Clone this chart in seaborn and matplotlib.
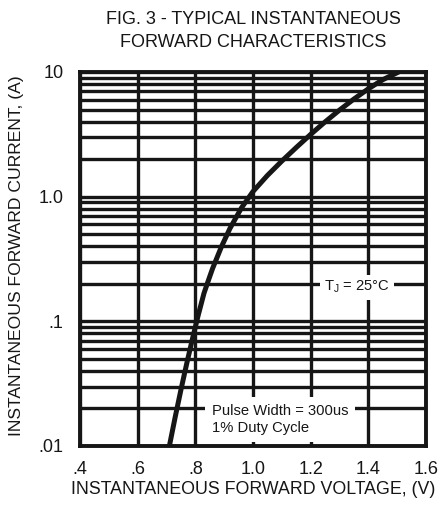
import seaborn as sns
import matplotlib.pyplot as plt
import pandas as pd
from matplotlib.ticker import LogLocator, FixedLocator, NullFormatter

# forward voltage (V) vs forward current (A)
voltage = [0.71, 0.73, 0.75, 0.77, 0.79, 0.81, 0.83, 0.845, 0.86, 0.89, 0.92, 0.96,
           1.00, 1.05, 1.10, 1.15, 1.20, 1.25, 1.30, 1.35, 1.40, 1.45, 1.505]
current = [0.01, 0.017, 0.0282, 0.0457, 0.0724, 0.112, 0.168, 0.212, 0.266, 0.394, 0.556, 0.813,
           1.10, 1.48, 1.93, 2.48, 3.16, 3.98, 4.95, 6.07, 7.33, 8.67, 10.0]

x_ticks = [0.4, 0.6, 0.8, 1.0, 1.2, 1.4, 1.6]
x_labels = [".4", ".6", ".8", "1.0", "1.2", "1.4", "1.6"]
y_ticks = [0.01, 0.1, 1.0, 10]
y_labels = [".01", ".1", "1.0", "10"]

df = pd.DataFrame({"V": voltage, "I": current})

sns.set_style("white")
plt.rcParams["font.family"] = ["Liberation Sans", "DejaVu Sans"]
ink = "#161616"

fig = plt.figure(figsize=(4.43, 5.08), dpi=100)
ax = fig.add_axes([80 / 443, 1 - 446 / 508, 346 / 443, 374 / 508])

sns.lineplot(data=df, x="V", y="I", ax=ax, color=ink, linewidth=3.6, zorder=5)

ax.set_yscale("log")
ax.set_xlim(0.4, 1.6)
ax.set_ylim(0.01, 10)

ax.xaxis.set_major_locator(FixedLocator(x_ticks))
ax.set_xticklabels(x_labels)
ax.yaxis.set_major_locator(FixedLocator(y_ticks))
ax.set_yticklabels(y_labels)
ax.yaxis.set_minor_locator(LogLocator(base=10, subs=[2, 3, 4, 5, 6, 7, 8, 9]))
ax.yaxis.set_minor_formatter(NullFormatter())

ax.grid(True, which="both", color=ink, linewidth=2.4)
ax.tick_params(axis="x", which="both", length=0, labelsize=13, pad=11, colors=ink)
ax.tick_params(axis="y", which="both", length=0, labelsize=13, pad=12, colors=ink)
for s in ax.spines.values():
    s.set_color(ink)
    s.set_linewidth(2.8)

ax.set_xlabel("INSTANTANEOUS FORWARD VOLTAGE, (V)", fontsize=12.8, color=ink, labelpad=2)
ax.set_ylabel("INSTANTANEOUS FORWARD CURRENT, (A)", fontsize=12.6, color=ink)
ax.yaxis.set_label_coords(-0.163, 0.51)

fig.text(253 / 443, 1 - 19.5 / 508, "FIG. 3 - TYPICAL INSTANTANEOUS", ha="center", va="center",
         fontsize=13, color=ink)
fig.text(253 / 443, 1 - 42.5 / 508, "FORWARD CHARACTERISTICS", ha="center", va="center",
         fontsize=13, color=ink)

ax.text(0.80, 0.425, "T$_\\mathregular{J}$ = 25°C", transform=ax.transAxes,
        ha="center", va="center", fontsize=10.6, color=ink, zorder=6,
        bbox=dict(facecolor="white", edgecolor="none", pad=3))
ax.text(0.381, 0.071, "Pulse Width = 300us\n1% Duty Cycle", transform=ax.transAxes,
        ha="left", va="center", fontsize=10.6, color=ink, zorder=6, linespacing=1.25,
        bbox=dict(facecolor="white", edgecolor="none", pad=5))

fig.savefig("out.png", dpi=100)
